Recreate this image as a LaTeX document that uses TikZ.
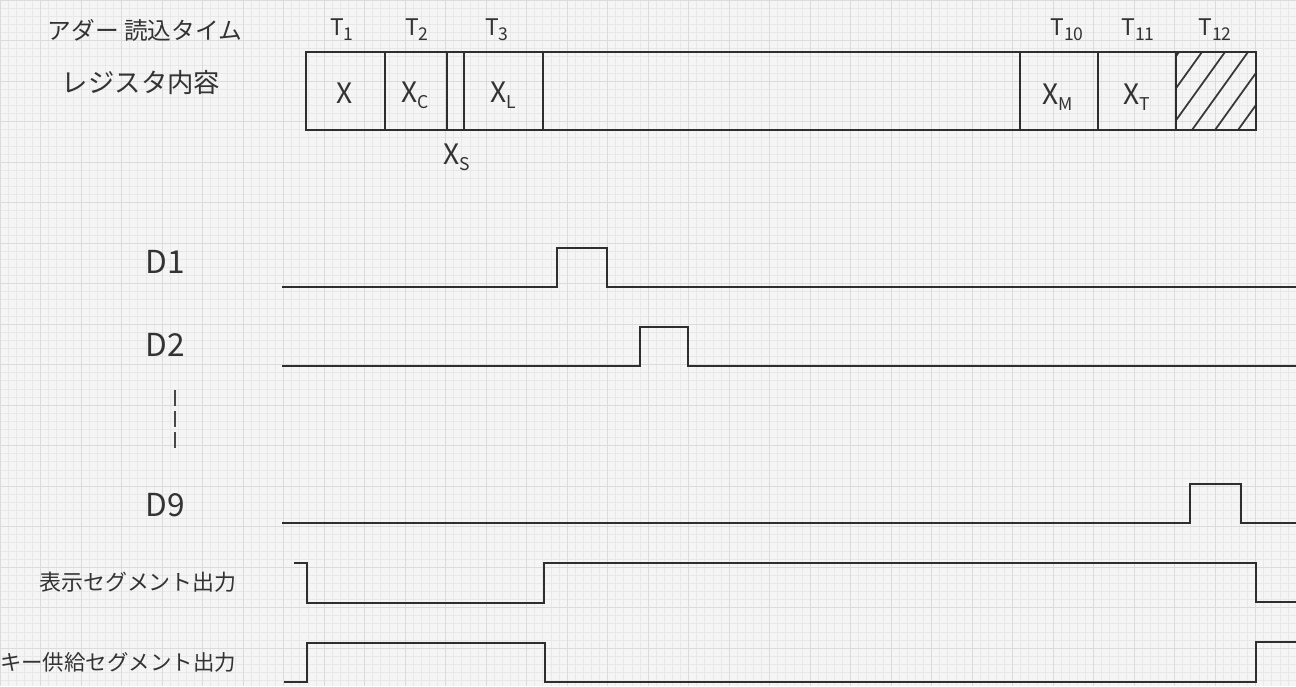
\documentclass[tikz,border=0pt]{standalone}
\usepackage{fontspec}
\setmainfont{Noto Sans CJK JP}
\newcommand\subs[1]{\raisebox{-0.4ex}{\fontsize{10}{10}\selectfont #1}}
\begin{document}
\begin{tikzpicture}[x=0.2mm, y=-0.2mm,
    wave/.style={line width=1.6pt, black!82, line join=miter},
    frame/.style={line width=1.2pt, black!82},
    ink/.style={text=black!80, inner sep=0pt},
    sig/.style={ink, font=\fontsize{18}{20}\selectfont}]
    \useasboundingbox (0,0) rectangle (1296,686);

    % graph paper
    \fill[black!4] (0,0) rectangle (1296,686);
    \foreach \gx in {0,8.1,...,1296} \draw[black!9, line width=0.25pt] (\gx,0) -- (\gx,686);
    \foreach \gy in {0,8.1,...,686} \draw[black!9, line width=0.25pt] (0,\gy) -- (1296,\gy);
    \foreach \gx in {0,40.5,...,1296} \draw[black!14, line width=0.4pt] (\gx,0) -- (\gx,686);
    \foreach \gy in {0,40.5,...,686} \draw[black!14, line width=0.4pt] (0,\gy) -- (1296,\gy);

    % Register contents
    \begin{scope}
        \node[ink, font=\fontsize{13.5}{15}\selectfont] (title) at (145,30) {アダー 読込タイム};
        \node[ink, font=\fontsize{15}{17}\selectfont] (reg) at (141,83) {レジスタ内容};
        \begin{scope}[ink, font=\fontsize{13}{15}\selectfont]
            \node (t1) at (342,30) {T\subs{1}};
            \node (t2) at (417,30) {T\subs{2}};
            \node (t3) at (497,30) {T\subs{3}};
            \node (t10) at (1067,30) {T\subs{10}};
            \node (t11) at (1138,30) {T\subs{11}};
            \node (t12) at (1215,30) {T\subs{12}};
        \end{scope}
        \begin{scope}
            \clip (1176,52) rectangle (1256,130);
            \foreach \hx in {-3,...,3}
                \draw[line width=1pt, black!78] (1192+23*\hx,130) -- ++(56,-78);
        \end{scope}
        \draw[frame] (306,52) rectangle (1256,130);
        \foreach \cx in {385,447,464,543,1020,1098,1176}
            \draw[frame] (\cx,52) -- (\cx,130);
        \begin{scope}[ink, font=\fontsize{16}{18}\selectfont]
            \node (rx) at (345,93) {X};
            \node (rxc) at (415,95) {X\subs{C}};
            \node (rxl) at (503,95) {X\subs{L}};
            \node (rxm) at (1058,97) {X\subs{M}};
            \node (rxt) at (1137,97) {X\subs{T}};
            \node (rxs) at (457,157) {X\subs{S}};
        \end{scope}
    \end{scope}

    % Digit timing
    \begin{scope}
        \node[sig] (d1) at (165,262) {D1};
        \draw[wave] (282,287) -- (557,287) -- (557,248) -- (607,248) -- (607,287) -- (1296,287);
        \node[sig] (d2) at (165,345) {D2};
        \draw[wave] (282,366) -- (640,366) -- (640,327) -- (688,327) -- (688,366) -- (1296,366);
        \draw[black!72, line width=0.9pt, dash pattern=on 9pt off 3pt] (175,390) -- (175,453);
        \node[sig] (d9) at (165,505) {D9};
        \draw[wave] (282,523) -- (1190,523) -- (1190,484) -- (1241,484) -- (1241,523) -- (1296,523);
    \end{scope}

    % Segment outputs
    \begin{scope}
        \node[ink, font=\fontsize{12.5}{14}\selectfont] (disp) at (138,582) {表示セグメント出力};
        \draw[wave] (294,563) -- (307,563) -- (307,603) -- (544,603) -- (544,563) -- (1256,563) -- (1256,602) -- (1296,602);
        \node[ink, font=\fontsize{12.2}{14}\selectfont] (key) at (118,662) {キー供給セグメント出力};
        \draw[wave] (284,682) -- (307,682) -- (307,643) -- (545,643) -- (545,682) -- (1256,682) -- (1256,642) -- (1296,642);
    \end{scope}
\end{tikzpicture}
\end{document}
